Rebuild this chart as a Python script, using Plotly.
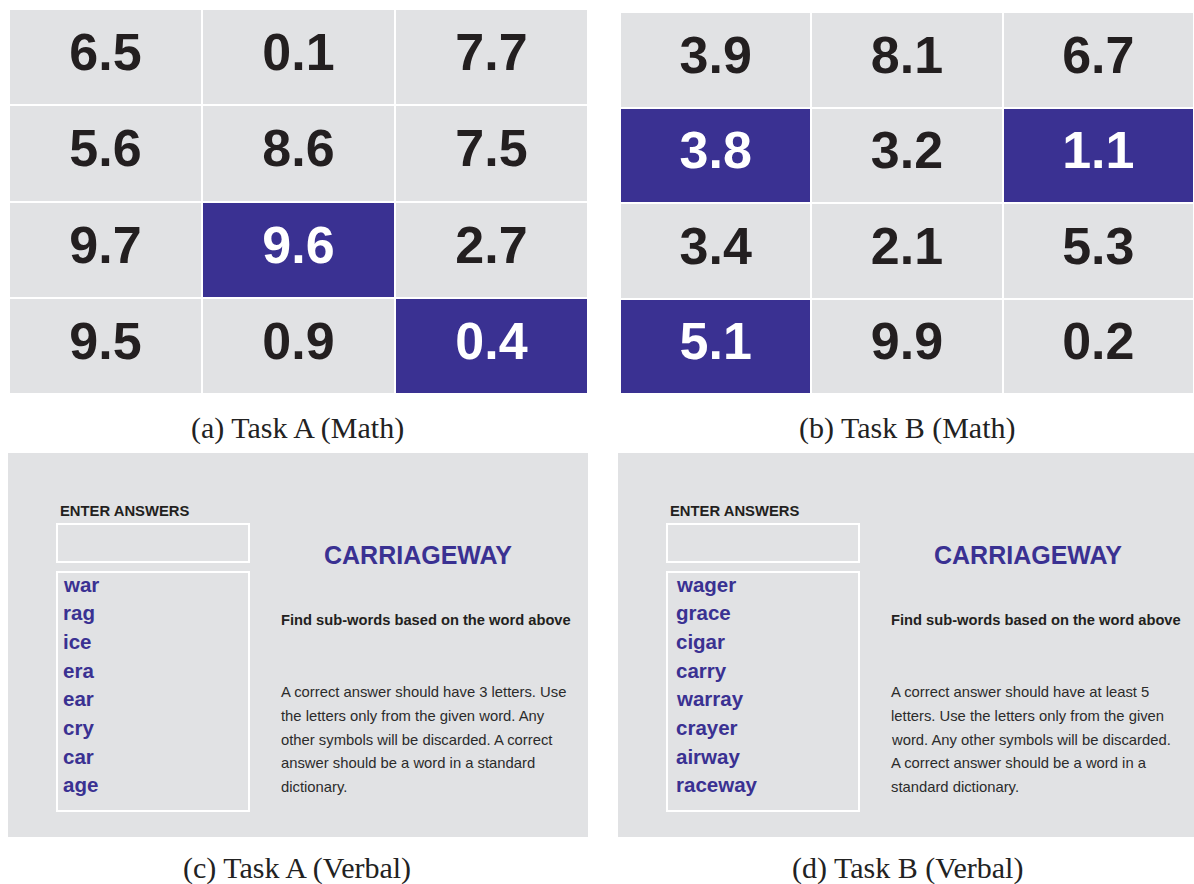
import plotly.graph_objects as go

W, H = 1194, 884

# ---------------- data ----------------
task_a_values = [[6.5, 0.1, 7.7],
                 [5.6, 8.6, 7.5],
                 [9.7, 9.6, 2.7],
                 [9.5, 0.9, 0.4]]
task_a_selected = [[0, 0, 0],
                   [0, 0, 0],
                   [0, 1, 0],
                   [0, 0, 1]]
task_b_values = [[3.9, 8.1, 6.7],
                 [3.8, 3.2, 1.1],
                 [3.4, 2.1, 5.3],
                 [5.1, 9.9, 0.2]]
task_b_selected = [[0, 0, 0],
                   [1, 0, 1],
                   [0, 0, 0],
                   [1, 0, 0]]

captions = ["(a) Task A (Math)", "(b) Task B (Math)",
            "(c) Task A (Verbal)", "(d) Task B (Verbal)"]
enter_label = "ENTER ANSWERS"
target_word = "CARRIAGEWAY"
instruction = "Find sub-words based on the word above"
words_a = ["war", "rag", "ice", "era", "ear", "cry", "car", "age"]
words_b = ["wager", "grace", "cigar", "carry", "warray", "crayer", "airway", "raceway"]
rules_a = ["A correct answer should have 3 letters. Use",
           "the letters only from the given word. Any",
           "other symbols will be discarded. A correct",
           "answer should be a word in a standard",
           "dictionary."]
rules_b = ["A correct answer should have at least 5",
           "letters. Use the letters only from the given",
           "word. Any other symbols will be discarded.",
           "A correct answer should be a word in a",
           "standard dictionary."]

# ---------------- style ----------------
GRAY = "#E1E2E4"
BLUE = "#3A3192"
INK = "#231F20"
SANS = "Liberation Sans, Arial, Helvetica, sans-serif"
SERIF = "Liberation Serif, Times New Roman, serif"


def px(x):
    return x / W


def py(y):
    return 1 - y / H


fig = go.Figure()


def add_grid(values, selected, xa, ya):
    rows, cols = len(values), len(values[0])
    fig.add_trace(go.Heatmap(
        z=selected, x=list(range(cols)), y=list(range(rows)),
        colorscale=[[0, GRAY], [1, BLUE]], zmin=0, zmax=1, showscale=False,
        xgap=2, ygap=2, hoverinfo="skip", xaxis=xa, yaxis=ya))
    xs, ys, ts, cs = [], [], [], []
    for r in range(rows):
        for c in range(cols):
            xs.append(c)
            ys.append(r)
            ts.append(f"{values[r][c]:.1f}")
            cs.append("white" if selected[r][c] else INK)
    fig.add_trace(go.Scatter(
        x=xs, y=ys, text=ts, mode="text", textposition="middle center",
        textfont=dict(family=SANS, size=52, color=cs, weight="bold"),
        hoverinfo="skip", showlegend=False, xaxis=xa, yaxis=ya))


add_grid(task_a_values, task_a_selected, "x", "y")
add_grid(task_b_values, task_b_selected, "x2", "y2")

ax_common = dict(visible=False, fixedrange=True, showgrid=False, zeroline=False)
fig.update_layout(
    xaxis=dict(domain=[px(9), px(588)], range=[-0.5, 2.5], **ax_common),
    yaxis=dict(domain=[py(394), py(9)], range=[3.5, -0.5], **ax_common),
    xaxis2=dict(domain=[px(620), 1.0], range=[-0.5, 2.5], anchor="y2", **ax_common),
    yaxis2=dict(domain=[py(394), py(12)], range=[3.5, -0.5], anchor="x2", **ax_common),
)

shapes = []
annotations = []


def ann(text, x, y, size, color, xanchor="left", weight="normal", family=SANS):
    annotations.append(dict(
        text=text, x=px(x), y=py(y), xref="paper", yref="paper",
        xanchor=xanchor, yanchor="middle", showarrow=False,
        font=dict(family=family, size=size, color=color, weight=weight)))


def add_verbal(ox, words, word_x, rules, x1):
    # background
    shapes.append(dict(type="rect", xref="paper", yref="paper",
                       x0=px(8 + ox), x1=px(x1), y0=py(837), y1=py(453),
                       fillcolor=GRAY, line=dict(width=0), layer="below"))
    # boxes
    for (y0, y1) in [(524, 562), (572, 811)]:
        shapes.append(dict(type="rect", xref="paper", yref="paper",
                           x0=px(57 + ox), x1=px(249 + ox), y0=py(y1), y1=py(y0),
                           line=dict(color="white", width=2), fillcolor="rgba(0,0,0,0)"))
    ann(enter_label, 58 + ox, 511, 14.8, INK, weight="bold")
    for i, w in enumerate(words):
        ann(w, word_x, 584 + i * 28.7, 20.5, BLUE, weight="bold")
    ann(target_word, 418 + ox, 555, 25, BLUE, xanchor="center", weight="bold")
    ann(instruction, 279 + ox, 620, 14.7, INK, weight="bold")
    for i, line in enumerate(rules):
        ann(line, 279 + ox, 692 + i * 23.8, 14.8, "#2B2B2B")


add_verbal(0, words_a, 61, rules_a, 588)
add_verbal(610, words_b, 674, rules_b, 1196)

# captions
for text, (cx, cy) in zip(captions, [(297, 428), (907, 428), (297, 868), (907, 868)]):
    ann(text, cx, cy, 30, "#222222", xanchor="center", family=SERIF)

fig.update_layout(
    width=W, height=H, margin=dict(l=0, r=0, t=0, b=0),
    paper_bgcolor="white", plot_bgcolor="white",
    showlegend=False, shapes=shapes, annotations=annotations,
)

fig.write_html("out.html", config={"displayModeBar": False},
               post_script="document.body.style.margin='0';document.body.style.overflow='hidden';")
